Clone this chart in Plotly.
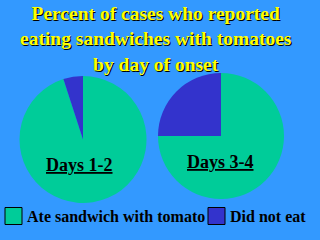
import plotly.graph_objects as go

labels = ["Ate sandwich with tomato", "Did not eat"]
days_1_2 = [95, 5]
days_3_4 = [75, 25]
pie_titles = ["Days 1-2", "Days 3-4"]
colors = ["#00CC99", "#3333CC"]
title_lines = ["Percent of cases who reported", "eating sandwiches with tomatoes", "by day of onset"]

W, H = 320, 240
BG = "#3399FF"
FONT = "Liberation Serif"

fig = go.Figure()
domains = [
    dict(x=[19 / W, 147 / W], y=[1 - 203 / H, 1 - 76 / H]),
    dict(x=[158 / W, 284 / W], y=[1 - 199 / H, 1 - 73 / H]),
]
for vals, dom in zip([days_1_2, days_3_4], domains):
    fig.add_trace(go.Pie(
        labels=labels, values=vals, domain=dom,
        marker=dict(colors=colors, line=dict(width=0)),
        sort=False, direction="clockwise", rotation=0,
        textinfo="none", hoverinfo="label+percent", showlegend=False,
    ))

# Pie labels
label_pos = [(79, 165), (220, 162)]
for txt, (px, py) in zip(pie_titles, label_pos):
    fig.add_annotation(
        x=px / W, y=1 - py / H, xref="paper", yref="paper",
        text=f"<b>{txt}</b>", showarrow=False, xanchor="center", yanchor="middle",
        font=dict(family=FONT, size=18, color="black", lineposition="under"),
    )

# Title
fig.add_annotation(
    x=156 / W, y=1, xref="paper", yref="paper", xanchor="center", yanchor="top",
    yshift=-1,
    text="<br>".join(f"<b>{t}</b>" for t in title_lines), showarrow=False,
    font=dict(family=FONT, size=19.5, color="#FFFF00", shadow="1px 1px 0px black"),
)

# Legend (custom, with bordered squares)
legend_x = [5, 208]
legend_y = 216
for lab, col, lx in zip(labels, colors, legend_x):
    fig.add_shape(type="rect", xref="paper", yref="paper",
                  x0=lx / W, x1=(lx + 17) / W, y0=1 - (legend_y + 8.5) / H, y1=1 - (legend_y - 8.5) / H,
                  fillcolor=col, line=dict(color="black", width=1))
    fig.add_annotation(
        x=(lx + 20) / W, y=1 - legend_y / H, xref="paper", yref="paper",
        xanchor="left", yanchor="middle", text=f"<b>{lab}</b>", showarrow=False,
        font=dict(family=FONT, size=16, color="black"),
    )

fig.update_layout(
    width=W, height=H, margin=dict(l=0, r=0, t=0, b=0),
    paper_bgcolor=BG, plot_bgcolor=BG, showlegend=False,
)
fig.write_html("out.html", config={"displayModeBar": False})
